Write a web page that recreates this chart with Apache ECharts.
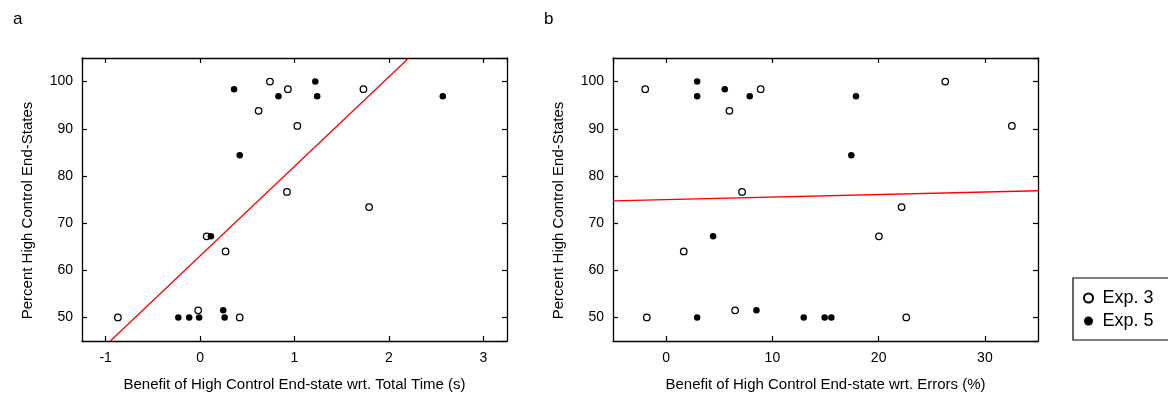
<!DOCTYPE html>
<html>
<head>
<meta charset="utf-8">
<script src="https://cdn.jsdelivr.net/npm/echarts@6/dist/echarts.min.js"></script>
<style>
  html, body { margin: 0; padding: 0; background: #fff; }
  #chart { width: 1168px; height: 394px; }
</style>
</head>
<body>
<div id="chart"></div>
<script>
// panel a: benefit in total time (s) vs percent high control end-states
const exp3TimeA = [
  [-0.87, 50], [-0.02, 51.5], [0.42, 50], [0.07, 67.2], [0.27, 64],
  [0.92, 76.6], [1.79, 73.4], [0.62, 93.8], [0.74, 100], [0.93, 98.4],
  [1.03, 90.6], [1.73, 98.4]
];
const exp5TimeA = [
  [-0.23, 50], [-0.115, 50], [-0.01, 50], [0.245, 51.5], [0.26, 50],
  [0.115, 67.2], [0.42, 84.4], [0.36, 98.4], [0.83, 96.9], [1.22, 100],
  [1.24, 96.9], [2.57, 96.9]
];
const fitA = [[-0.95, 45], [2.21, 105]];

// panel b: benefit in errors (%) vs percent high control end-states
const exp3ErrB = [
  [-1.97, 98.4], [-1.82, 50], [1.66, 64], [5.96, 93.8], [6.49, 51.5],
  [7.15, 76.6], [8.9, 98.4], [20.03, 67.2], [22.16, 73.4], [22.6, 50],
  [26.27, 100], [32.54, 90.6]
];
const exp5ErrB = [
  [2.92, 100], [2.92, 96.9], [2.92, 50], [4.42, 67.2], [5.52, 98.4],
  [7.87, 96.9], [8.5, 51.5], [12.95, 50], [14.92, 50], [15.55, 50],
  [17.43, 84.4], [17.87, 96.9]
];
const fitB = [[-5, 74.7], [35, 76.85]];

const seriesNames = ['Exp. 3', 'Exp. 5'];
const panelLetters = ['a', 'b'];
const xNames = [
  'Benefit of High Control End-state wrt. Total Time (s)',
  'Benefit of High Control End-state wrt. Errors (%)'
];
const yName = 'Percent High Control End-States';

const FONT = '"Liberation Sans", Arial, sans-serif';
const chart = echarts.init(document.getElementById('chart'));

function mainAxis(gridIndex, min, max, name, isX) {
  return {
    type: 'value',
    gridIndex: gridIndex,
    min: min,
    max: max,
    position: isX ? 'bottom' : 'left',
    name: name,
    nameLocation: 'middle',
    nameGap: isX ? 36 : 47,
    nameTextStyle: {
      color: '#000', fontSize: 15, fontFamily: FONT,
      // label sits a bit below the middle of the axis in the original
      padding: isX ? 0 : [0, 22, 0, 0]
    },
    axisLine: { show: true, onZero: false, lineStyle: { color: '#000', width: 1.3 } },
    axisTick: { show: true, inside: true, length: 5, lineStyle: { color: '#000', width: 1.2 } },
    axisLabel: {
      color: '#000', fontSize: 14, fontFamily: FONT, margin: isX ? 10 : 9,
      showMinLabel: false, showMaxLabel: false
    },
    splitLine: { show: false }
  };
}

function mirrorAxis(gridIndex, min, max, isX) {
  return {
    type: 'value',
    gridIndex: gridIndex,
    min: min,
    max: max,
    position: isX ? 'top' : 'right',
    axisLine: { show: true, onZero: false, lineStyle: { color: '#000', width: 1.3 } },
    axisTick: { show: true, inside: true, length: 5, lineStyle: { color: '#000', width: 1.2 } },
    axisLabel: { show: false },
    splitLine: { show: false }
  };
}

const openStyle = { color: '#fff', borderColor: '#000', borderWidth: 1.3, opacity: 1 };
const filledStyle = { color: '#000', borderColor: '#000', borderWidth: 0, opacity: 1 };

function scatter(name, data, xi, yi, style) {
  return {
    name: name, type: 'scatter', xAxisIndex: xi, yAxisIndex: yi,
    symbol: 'circle', symbolSize: 6.5, data: data, itemStyle: style,
    z: 3
  };
}

function fitLine(data, xi, yi) {
  return {
    type: 'line', xAxisIndex: xi, yAxisIndex: yi, data: data,
    symbol: 'none', clip: true, silent: true,
    lineStyle: { color: '#ff0000', width: 1.3 }, z: 2
  };
}

const option = {
  animation: false,
  backgroundColor: '#fff',
  title: [
    { text: panelLetters[0], left: 8, top: 6, textStyle: { fontSize: 17, fontWeight: 'normal', color: '#000', fontFamily: FONT } },
    { text: panelLetters[1], left: 539, top: 6, textStyle: { fontSize: 17, fontWeight: 'normal', color: '#000', fontFamily: FONT } }
  ],
  legend: {
    data: seriesNames,
    orient: 'vertical',
    left: 1073,
    top: 278,
    padding: [11, 40, 10, 10],
    itemGap: 5,
    itemWidth: 18,
    itemHeight: 9,
    borderColor: '#000',
    borderWidth: 1.2,
    borderRadius: 0,
    textStyle: { fontSize: 18, color: '#000', fontFamily: FONT }
  },
  grid: [
    { left: 82, top: 58, width: 425, height: 283, outerBoundsMode: 'none' },
    { left: 613, top: 58, width: 425, height: 283, outerBoundsMode: 'none' }
  ],
  xAxis: [
    mainAxis(0, -1.25, 3.25, xNames[0], true),
    mirrorAxis(0, -1.25, 3.25, true),
    mainAxis(1, -5, 35, xNames[1], true),
    mirrorAxis(1, -5, 35, true)
  ],
  yAxis: [
    mainAxis(0, 45, 105, yName, false),
    mirrorAxis(0, 45, 105, false),
    mainAxis(1, 45, 105, yName, false),
    mirrorAxis(1, 45, 105, false)
  ],
  series: [
    fitLine(fitA, 0, 0),
    scatter(seriesNames[0], exp3TimeA, 0, 0, openStyle),
    scatter(seriesNames[1], exp5TimeA, 0, 0, filledStyle),
    fitLine(fitB, 2, 2),
    scatter(seriesNames[0], exp3ErrB, 2, 2, openStyle),
    scatter(seriesNames[1], exp5ErrB, 2, 2, filledStyle)
  ]
};

chart.setOption(option);
</script>
</body>
</html>
